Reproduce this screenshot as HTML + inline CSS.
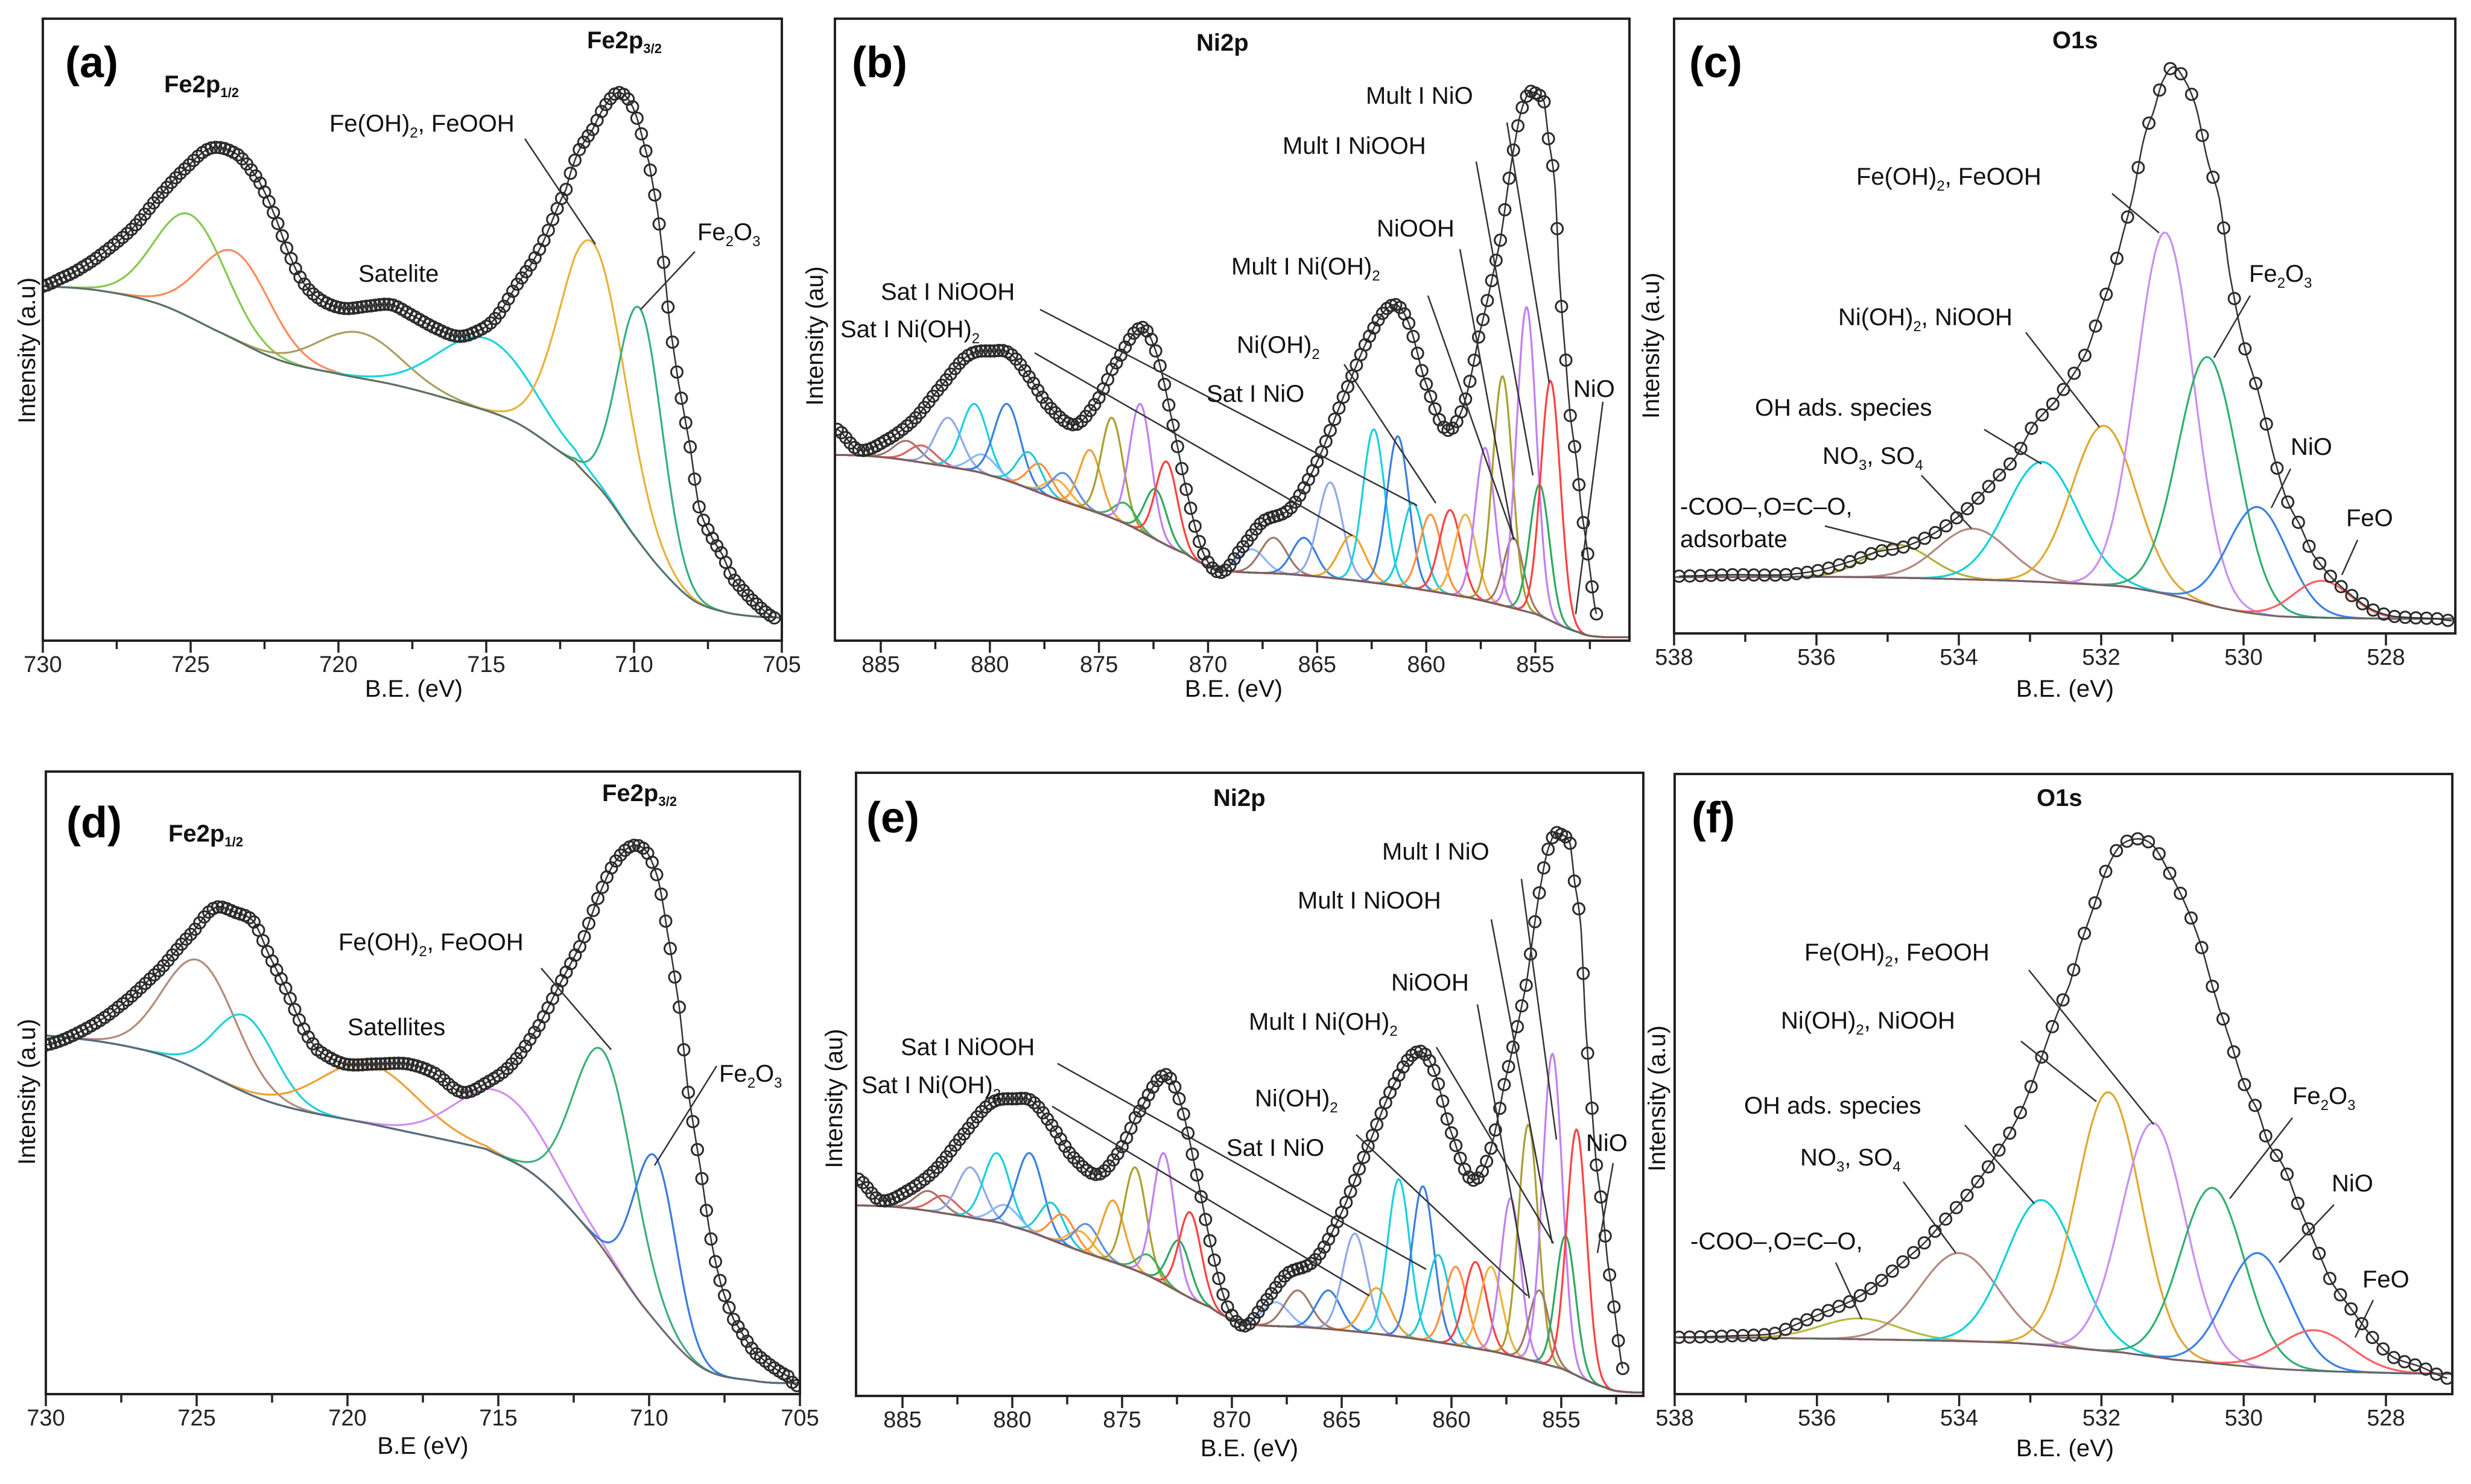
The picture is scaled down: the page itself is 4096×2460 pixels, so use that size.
<!DOCTYPE html>
<html><head><meta charset="utf-8">
<style>
html,body{margin:0;padding:0;background:#fff;}
svg{display:block;font-family:"Liberation Sans",Arial,sans-serif;}
.lbl{font-size:40px;fill:#111;}
.bold{font-weight:bold;}
.tick{font-size:38px;fill:#222;}
</style></head>
<body>
<svg id="fig" xmlns="http://www.w3.org/2000/svg" width="4096" height="2460" viewBox="0 0 4096 2460">
<rect x="0" y="0" width="4096" height="2460" fill="#fff"/>
<g id="plots"></g>
<g id="labels">
 <text class="bold" x="108" y="128" font-size="72">(a)</text>
 <text class="lbl bold" x="272" y="153" font-size="38">Fe2p<tspan font-size="22" dy="8">1/2</tspan></text>
 <text class="lbl bold" x="973" y="80" font-size="38">Fe2p<tspan font-size="22" dy="8">3/2</tspan></text>
 <text class="lbl" x="546" y="218">Fe(OH)<tspan font-size="24" dy="10">2</tspan><tspan dy="-10">, FeOOH</tspan></text>
 <text class="lbl" x="1156" y="398">Fe<tspan font-size="24" dy="10">2</tspan><tspan dy="-10">O</tspan><tspan font-size="24" dy="10">3</tspan></text>
 <text class="lbl" x="594" y="467">Satelite</text>
 <text class="lbl" x="0" y="0" transform="translate(58,581) rotate(-90)" text-anchor="middle">Intensity (a.u)</text>
 <text class="lbl" x="686" y="1155" font-size="44" text-anchor="middle">B.E. (eV)</text>
 <text class="bold" x="1412" y="128" font-size="72">(b)</text>
 <text class="lbl bold" x="1983" y="84" font-size="38">Ni2p</text>
 <text class="lbl" x="2264" y="172">Mult I NiO</text>
 <text class="lbl" x="2126" y="255">Mult I NiOOH</text>
 <text class="lbl" x="2282" y="392">NiOOH</text>
 <text class="lbl" x="2041" y="455">Mult I Ni(OH)<tspan font-size="24" dy="10">2</tspan></text>
 <text class="lbl" x="1460" y="497">Sat I NiOOH</text>
 <text class="lbl" x="1393" y="559">Sat I Ni(OH)<tspan font-size="24" dy="10">2</tspan></text>
 <text class="lbl" x="2050" y="585">Ni(OH)<tspan font-size="24" dy="10">2</tspan></text>
 <text class="lbl" x="2000" y="666">Sat I NiO</text>
 <text class="lbl" x="2608" y="658">NiO</text>
 <text class="lbl" x="0" y="0" transform="translate(1364,557) rotate(-90)" text-anchor="middle">Intensity (au)</text>
 <text class="lbl" x="2045" y="1155" font-size="44" text-anchor="middle">B.E. (eV)</text>
 <text class="bold" x="2800" y="128" font-size="72">(c)</text>
 <text class="lbl bold" x="3402" y="80" font-size="38">O1s</text>
 <text class="lbl" x="3077" y="306">Fe(OH)<tspan font-size="24" dy="10">2</tspan><tspan dy="-10">, FeOOH</tspan></text>
 <text class="lbl" x="3047" y="539">Ni(OH)<tspan font-size="24" dy="10">2</tspan><tspan dy="-10">, NiOOH</tspan></text>
 <text class="lbl" x="3728" y="467">Fe<tspan font-size="24" dy="10">2</tspan><tspan dy="-10">O</tspan><tspan font-size="24" dy="10">3</tspan></text>
 <text class="lbl" x="2909" y="689">OH ads. species</text>
 <text class="lbl" x="3021" y="769">NO<tspan font-size="24" dy="10">3</tspan><tspan dy="-10">, SO</tspan><tspan font-size="24" dy="10">4</tspan></text>
 <text class="lbl" x="2785" y="853">-COO–,O=C–O,</text>
 <text class="lbl" x="2785" y="907">adsorbate</text>
 <text class="lbl" x="3797" y="754">NiO</text>
 <text class="lbl" x="3889" y="872">FeO</text>
 <text class="lbl" x="0" y="0" transform="translate(2750,573) rotate(-90)" text-anchor="middle">Intensity (a.u)</text>
 <text class="lbl" x="3423" y="1155" font-size="44" text-anchor="middle">B.E. (eV)</text>
 <text class="bold" x="110" y="1388" font-size="72">(d)</text>
 <text class="lbl bold" x="279" y="1395" font-size="38">Fe2p<tspan font-size="22" dy="8">1/2</tspan></text>
 <text class="lbl bold" x="998" y="1328" font-size="38">Fe2p<tspan font-size="22" dy="8">3/2</tspan></text>
 <text class="lbl" x="561" y="1575">Fe(OH)<tspan font-size="24" dy="10">2</tspan><tspan dy="-10">, FeOOH</tspan></text>
 <text class="lbl" x="576" y="1716">Satellites</text>
 <text class="lbl" x="1192" y="1793">Fe<tspan font-size="24" dy="10">2</tspan><tspan dy="-10">O</tspan><tspan font-size="24" dy="10">3</tspan></text>
 <text class="lbl" x="0" y="0" transform="translate(58,1810) rotate(-90)" text-anchor="middle">Intensity (a.u)</text>
 <text class="lbl" x="701" y="2410" font-size="44" text-anchor="middle">B.E (eV)</text>
 <text class="bold" x="1436" y="1380" font-size="72">(e)</text>
 <text class="lbl bold" x="2011" y="1336" font-size="38">Ni2p</text>
 <text class="lbl" x="2291" y="1425">Mult I NiO</text>
 <text class="lbl" x="2151" y="1506">Mult I NiOOH</text>
 <text class="lbl" x="2306" y="1642">NiOOH</text>
 <text class="lbl" x="2070" y="1707">Mult I Ni(OH)<tspan font-size="24" dy="10">2</tspan></text>
 <text class="lbl" x="1493" y="1749">Sat I NiOOH</text>
 <text class="lbl" x="1428" y="1812">Sat I Ni(OH)<tspan font-size="24" dy="10">2</tspan></text>
 <text class="lbl" x="2080" y="1834">Ni(OH)<tspan font-size="24" dy="10">2</tspan></text>
 <text class="lbl" x="2033" y="1916">Sat I NiO</text>
 <text class="lbl" x="2629" y="1908">NiO</text>
 <text class="lbl" x="0" y="0" transform="translate(1396,1821) rotate(-90)" text-anchor="middle">Intensity (au)</text>
 <text class="lbl" x="2071" y="2414" font-size="44" text-anchor="middle">B.E. (eV)</text>
 <text class="lbl" x="0" y="0" transform="translate(2760,1821) rotate(-90)" text-anchor="middle">Intensity (a.u)</text>
 <text class="bold" x="2804" y="1380" font-size="72">(f)</text>
 <text class="lbl bold" x="3376" y="1336" font-size="38">O1s</text>
 <text class="lbl" x="2991" y="1592">Fe(OH)<tspan font-size="24" dy="10">2</tspan><tspan dy="-10">, FeOOH</tspan></text>
 <text class="lbl" x="2952" y="1705">Ni(OH)<tspan font-size="24" dy="10">2</tspan><tspan dy="-10">, NiOOH</tspan></text>
 <text class="lbl" x="2891" y="1846">OH ads. species</text>
 <text class="lbl" x="2984" y="1932">NO<tspan font-size="24" dy="10">3</tspan><tspan dy="-10">, SO</tspan><tspan font-size="24" dy="10">4</tspan></text>
 <text class="lbl" x="2802" y="2071">-COO–,O=C–O,</text>
 <text class="lbl" x="3800" y="1830">Fe<tspan font-size="24" dy="10">2</tspan><tspan dy="-10">O</tspan><tspan font-size="24" dy="10">3</tspan></text>
 <text class="lbl" x="3865" y="1975">NiO</text>
 <text class="lbl" x="3916" y="2134">FeO</text>
 <text class="lbl" x="3423" y="2414" font-size="44" text-anchor="middle">B.E. (eV)</text>
</g>
<g id="labels2"></g>
</svg>
<script>
// ---------- Panel (a) Fe2p ----------
const aEnvelope=[[730,768],[729.4,785],[728.7,808],[727.8,848],[726.9,898],[726,968],[725.1,1028],[724.3,1068],[723.4,1053],[722.7,998],[722.2,928],[721.6,828],[721.1,768],[720.5,735],[719.8,720],[719,725],[718.2,728],[717.5,705],[716.8,680],[716,660],[715.4,668],[714.7,698],[714,768],[713.2,848],[712.3,978],[711.9,1058],[711.4,1108],[711,1158],[710.5,1188],[710,1150],[709.5,1038],[709.2,930],[709,820],[708.8,690],[708.5,560],[708.1,420],[707.8,290],[707.4,228],[707,185],[706.7,138],[706,88],[705.2,48]];
const aBackground=[[730,768],[728,758],[726,728],[724,668],[722,608],[720,578],[718,553],[716,518],[714,473],[712,388],[711,318],[710,228],[709,148],[708,88],[707,63],[706,53],[705,50]];
const aCenters=[725,723.5,719.3,715,711.4,709.8];
const aPeaks=[923,843,668,655,863,720];
const aSigmas=[1.2,1.2,1.4,1.6,1.1,0.75];
const aColors=['#84c94f','#ff8a5c','#a89f5e','#19d3e0','#e6b23a','#35b07f'];
// ---------- Panel (d) Fe2p ----------
const dEnvelope=[[730,738],[728.8,768],[727.6,818],[726.2,898],[725.1,978],[724.4,1028],[723.7,1018],[723.1,998],[722.6,928],[722.05,858],[721.5,778],[721,728],[720.1,698],[719,698],[718,698],[717.1,678],[716.2,638],[715.4,658],[714.55,698],[713.66,778],[712.95,868],[712.2,958],[711.7,1048],[711.2,1118],[710.6,1158],[710.1,1148],[709.7,1088],[709.4,978],[709,818],[708.7,638],[708.3,478],[707.95,328],[707.6,228],[707.2,158],[706.5,88],[705.4,38],[705.1,18]];
const dBackground=[[730,758],[726.2,718],[722.6,618],[719,568],[715.4,518],[713.7,458],[711.9,338],[710.1,178],[708.3,58],[706.5,28],[705,23]];
const dCenters=[724.9,723.4,719.3,714.9,711.5,709.8];
const dPeaks=[916,800,698,638,723,503];
const dSigmas=[1.2,1.0,1.6,1.5,1.0,0.7];
const dColors=['#b48a7a','#1fd0d8','#f0a030','#d28ef0','#3cb07a','#3a7be0'];
// ---------- Panels (b) & (e) Ni2p ----------
const niEnvelope=[[887,458],[886,413],[884.8,433],[883.5,478],[882.3,548],[881,618],[879.8,628],[879.1,623],[878.3,578],[877.3,508],[876.1,468],[875.1,518],[874.4,588],[873.1,678],[872.4,628],[871.7,488],[870.9,308],[870.2,188],[869.4,148],[868.5,198],[867.5,258],[866.2,288],[865,388],[863.8,528],[862.5,668],[861.5,728],[860.8,688],[860.1,568],[859.1,458],[858.3,508],[857.6,658],[856.6,868],[855.9,1088],[855.4,1180],[855.1,1188],[854.6,1168],[854.4,1088],[854.1,988],[853.9,788],[853.6,608],[853.4,488],[853.1,388],[852.9,288],[852.6,188],[852.2,58]];
const niBackground=[[887.5,403],[885,398],[882,378],[880,358],[877,308],[874,258],[871,188],[869.5,153],[866,143],[862,123],[858,93],[855,58],[853,18],[852,8],[850,8]];
const niCenters=[883.8,883.1,881.9,880.7,880.3,879.2,878.2,877.7,876.9,876.6,875.4,874.4,873.8,873.1,872.4,871.9,868.0,867.0,865.6,864.4,863.4,862.4,861.3,860.6,859.8,858.9,858.2,857.3,856.5,856.0,855.4,854.8,854.3];
const niPeaks=[433,423,483,513,403,513,408,383,348,363,413,483,298,513,328,388,198,223,223,343,228,458,443,298,273,283,273,418,573,223,723,338,563];
const niSigmas=[0.6,0.6,0.6,0.6,0.6,0.6,0.55,0.55,0.55,0.55,0.5,0.5,0.5,0.5,0.5,0.5,0.6,0.6,0.55,0.55,0.6,0.5,0.5,0.5,0.5,0.5,0.5,0.45,0.45,0.45,0.45,0.45,0.45];
const niColors=['#a0786a','#e06060','#8fa8e8','#18d0e0','#88b8ff','#3a80e0','#20c8d8','#ff9040','#f0b040','#6090e0','#f0a030','#a8a030','#40b060','#c080f0','#30a860','#ff4040','#88b8ff','#a0786a','#3a80e0','#8fa8e8','#f0a030','#18d0e0','#3a80e0','#20c8d8','#ff9040','#ff4040','#f0b040','#c080f0','#a8a030','#a0786a','#c080f0','#30a860','#ff4040'];
// ---------- Panel (c) O1s ----------
const cEnvelope=[[537.93,124],[537.2,127],[536.46,127],[535.95,137],[535.5,157],[535.14,177],[534.78,187],[534.4,212],[534.1,242],[533.8,282],[533.5,332],[533.2,382],[532.95,452],[532.65,502],[532.43,552],[532.2,612],[532,702],[531.85,772],[531.7,862],[531.55,952],[531.4,1072],[531.26,1132],[531.15,1192],[531,1227],[530.86,1207],[530.67,1142],[530.5,1022],[530.34,942],[530.2,782],[530,632],[529.87,562],[529.76,502],[529.58,387],[529.4,292],[529.2,232],[529.03,172],[528.77,122],[528.48,82],[528.2,52],[527.9,37],[527.3,32],[527.05,27]];
const cBackground=[[538,122],[535.4,122],[533.2,114],[531.7,102],[531,82],[530.2,52],[529.5,37],[528,32],[527,32]];
const cCenters=[534.85,533.8,532.83,531.96,531.1,530.5,529.8,528.9];
const cPeaks=[192,227,372,450,869,599,274,114];
const cSigmas=[0.45,0.5,0.5,0.45,0.4,0.42,0.42,0.4];
const cColors=['#b0b040','#b08a80','#10d0d8','#e0a830','#c890f0','#30b070','#3a80e8','#ff6060'];
// ---------- Panel (f) O1s ----------
const fEnvelope=[[537.94,120],[537.2,123],[536.6,128],[536.25,150],[535.9,173],[535.5,198],[535.15,233],[534.8,278],[534.5,318],[534.2,368],[533.9,418],[533.6,478],[533.3,548],[533.1,608],[532.9,688],[532.66,788],[532.44,868],[532.3,948],[532.1,1033],[531.93,1108],[531.74,1158],[531.49,1173],[531.27,1158],[531.05,1103],[530.83,1038],[530.6,948],[530.38,833],[530.24,768],[530,658],[529.8,598],[529.65,528],[529.43,478],[529.2,388],[529,318],[528.77,238],[528.48,178],[528.18,118],[527.9,78],[527.52,58],[527.12,33]];
const fBackground=[[538,120],[535.4,116],[533.2,108],[531.7,88],[531,73],[529.5,53],[528,45],[527,43]];
const fCenters=[535.4,534.0,532.84,531.9,531.27,530.44,529.8,529.0];
const fPeaks=[160,298,410,638,573,436,298,135];
const fSigmas=[0.55,0.55,0.5,0.45,0.45,0.45,0.45,0.5];
const fColors=['#b8b840','#b08a80','#10d0d8','#e0a830','#c890f0','#30b070','#3a80e8','#ff6060'];
// tick label values
const feTicks=[730,725,720,715,710,705];
const niTicks=[885,880,875,870,865,860,855];
const oTicks=[538,536,534,532,530,528];

const NS='http://www.w3.org/2000/svg';
function el(tag,attrs,parent){const e=document.createElementNS(NS,tag);for(const k in attrs)e.setAttribute(k,attrs[k]);parent.appendChild(e);return e;}
// smooth (Catmull-Rom) interpolation over a descending-x array of [x,y]
function interp(arr,x){
  const n=arr.length;
  if(x>=arr[0][0])return arr[0][1];
  if(x<=arr[n-1][0])return arr[n-1][1];
  for(let i=0;i<n-1;i++){
    const a=arr[i],b=arr[i+1];
    if(x<=a[0]&&x>=b[0]){
      const t=(a[0]-x)/(a[0]-b[0]);
      const p0=(i>0?arr[i-1][1]:a[1]),p1=a[1],p2=b[1],p3=(i+2<n?arr[i+2][1]:b[1]);
      const t2=t*t,t3=t2*t;
      return 0.5*((2*p1)+(-p0+p2)*t+(2*p0-5*p1+4*p2-p3)*t2+(-p0+3*p1-3*p2+p3)*t3);
    }
  }
  return arr[n-1][1];
}

function drawPanel(id,g,env,bg,centers,peaks,sigmas,colors,ticks,minorStep,markStep){
  const root=document.getElementById('plots');
  const grp=el('g',{},root);
  
  
  const xs=v=>g.pA+(v-g.vA)*(g.pB-g.pA)/(g.vB-g.vA);
  const ys=v=>g.b-v*(g.b-g.t)/g.yr;
  const xL=g.vA+(g.l-g.pA)*(g.vB-g.vA)/(g.pB-g.pA);
  const xR=g.vA+(g.r-g.pA)*(g.vB-g.vA)/(g.pB-g.pA);
  const cp=el('clipPath',{id:'clip'+id},grp);
  el('rect',{x:g.l,y:g.t,width:g.r-g.l,height:g.b-g.t},cp);
  const box=el('rect',{x:g.l,y:g.t,width:g.r-g.l,height:g.b-g.t,fill:'#fff',stroke:'none'},grp);
  
  
  const inner=el('g',{'clip-path':'url(#clip'+id+')'},grp);
  const lo=Math.min(xL,xR),hi=Math.max(xL,xR);
  for(let k=0;k<centers.length;k++){
    const amp=peaks[k]-interp(bg,centers[k]);
    let d='';
    for(let x=hi;x>=lo;x-=0.04){const v=interp(bg,x)+amp*Math.exp(-Math.pow(x-centers[k],2)/(2*sigmas[k]*sigmas[k]));d+=(d?'L':'M')+xs(x).toFixed(1)+','+ys(v).toFixed(1);}
    const p=el('path',{d:d,fill:'none',stroke:colors[k],'stroke-width':3.2},inner);
    
    
  }
  let bd='';
  for(let x=hi;x>=lo;x-=0.05){bd+=(bd?'L':'M')+xs(x).toFixed(1)+','+ys(interp(bg,x)).toFixed(1);}
  const bp=el('path',{d:bd,fill:'none',stroke:'#666','stroke-width':2.5},inner);
  
  
  const e0=env[0][0],e1=env[env.length-1][0];
  let ed='';
  for(let x=e0;x>=e1;x-=0.03){ed+=(ed?'L':'M')+xs(x).toFixed(1)+','+ys(interp(env,x)).toFixed(1);}
  const ep=el('path',{d:ed,fill:'none',stroke:'#333','stroke-width':2.5},inner);
  
  
  const mg=el('g',{fill:'none',stroke:'#2a2a2a','stroke-width':3},inner);
  
  
  for(let x=e0;x>=e1-1e-6;x-=markStep){
    const c=el('circle',{cx:xs(x).toFixed(1),cy:ys(interp(env,x)).toFixed(1),r:9.5},mg);
    
    
  }
  const fr=el('rect',{x:g.l,y:g.t,width:g.r-g.l,height:g.b-g.t,fill:'none',stroke:'#222','stroke-width':4},grp);
  
  
  const start=Math.ceil(lo/minorStep)*minorStep;
  for(let v=start;v<=hi+1e-6;v+=minorStep){
    const px=xs(v);if(px<g.l-1||px>g.r+1)continue;
    const major=ticks.some(t=>Math.abs(t-v)<1e-6);
    const tk=el('line',{x1:px,y1:g.b,x2:px,y2:g.b+(major?20:14),stroke:'#222','stroke-width':3.5},grp);
    
    
  }
  for(const t of ticks){
    const tx=el('text',{x:xs(t),y:g.b+52,'text-anchor':'middle','class':'tick'},grp);
    
    
    tx.textContent=t;
  }
  return grp;
}
const G={
 a:{l:71,t:31,r:1296,b:1062,pA:71,vA:730,pB:1296,vB:705,yr:1348},
 b:{l:1384,t:31,r:2701,b:1062,pA:1460,vA:885,pB:2545,vB:855,yr:1348},
 c:{l:2775,t:31,r:4070,b:1050,pA:2775,vA:538,pB:3955,vB:528,yr:1332},
 d:{l:76,t:1279,r:1326,b:2311,pA:76,vA:730,pB:1326,vB:705,yr:1316},
 e:{l:1419,t:1281,r:2724,b:2314,pA:1496,vA:885,pB:2588,vB:855,yr:1317},
 f:{l:2776,t:1283,r:4065,b:2311,pA:2776,vA:538,pB:3955,vB:528,yr:1310}
};
drawPanel('a',G.a,aEnvelope,aBackground,aCenters,aPeaks,aSigmas,aColors,feTicks,2.5,0.15);
drawPanel('b',G.b,niEnvelope,niBackground,niCenters,niPeaks,niSigmas,niColors,niTicks,2.5,0.2);
drawPanel('c',G.c,cEnvelope,cBackground,cCenters,cPeaks,cSigmas,cColors,oTicks,1,0.15);
drawPanel('d',G.d,dEnvelope,dBackground,dCenters,dPeaks,dSigmas,dColors,feTicks,2.5,0.15);
drawPanel('e',G.e,niEnvelope,niBackground,niCenters,niPeaks,niSigmas,niColors,niTicks,2.5,0.2);
drawPanel('f',G.f,fEnvelope,fBackground,fCenters,fPeaks,fSigmas,fColors,oTicks,1,0.15);

const leaders=[[870,230,987,405],[1152,417,1062,513],
[2498,203,2568,635],[2447,268,2541,788],[2420,413,2509,895],[2367,490,2510,895],[2228,604,2380,834],[1724,513,2349,838],[1715,585,2242,888],[2657,666,2612,1018],
[3501,321,3579,386],[3358,551,3480,708],[3730,490,3670,593],[3289,712,3384,769],[3185,788,3268,876],[3025,872,3147,903],[3797,777,3765,842],[3908,895,3882,953],
[897,1605,1013,1740],[1188,1767,1085,1932],
[2522,1457,2580,1889],[2472,1524,2573,2061],[2449,1665,2535,2152],[2381,1736,2575,2061],[2248,1881,2532,2148],[1753,1763,2364,2104],[1744,1834,2270,2148],[2674,1928,2648,2077],
[3363,1608,3570,1864],[3350,1726,3475,1826],[3257,1865,3372,1995],[3155,1959,3242,2077],[3043,2093,3086,2187],[3800,1853,3696,1987],[3869,1997,3778,2093],[3934,2155,3904,2217]];
const lg=document.getElementById('labels2');
for(const L of leaders){
  const ln=el('line',{x1:L[0],y1:L[1],x2:L[2],y2:L[3],stroke:'#333','stroke-width':2.5},lg);
  
  
}
const svg=document.getElementById('fig');
svg.appendChild(document.getElementById('labels'));
</script>
</body></html>
